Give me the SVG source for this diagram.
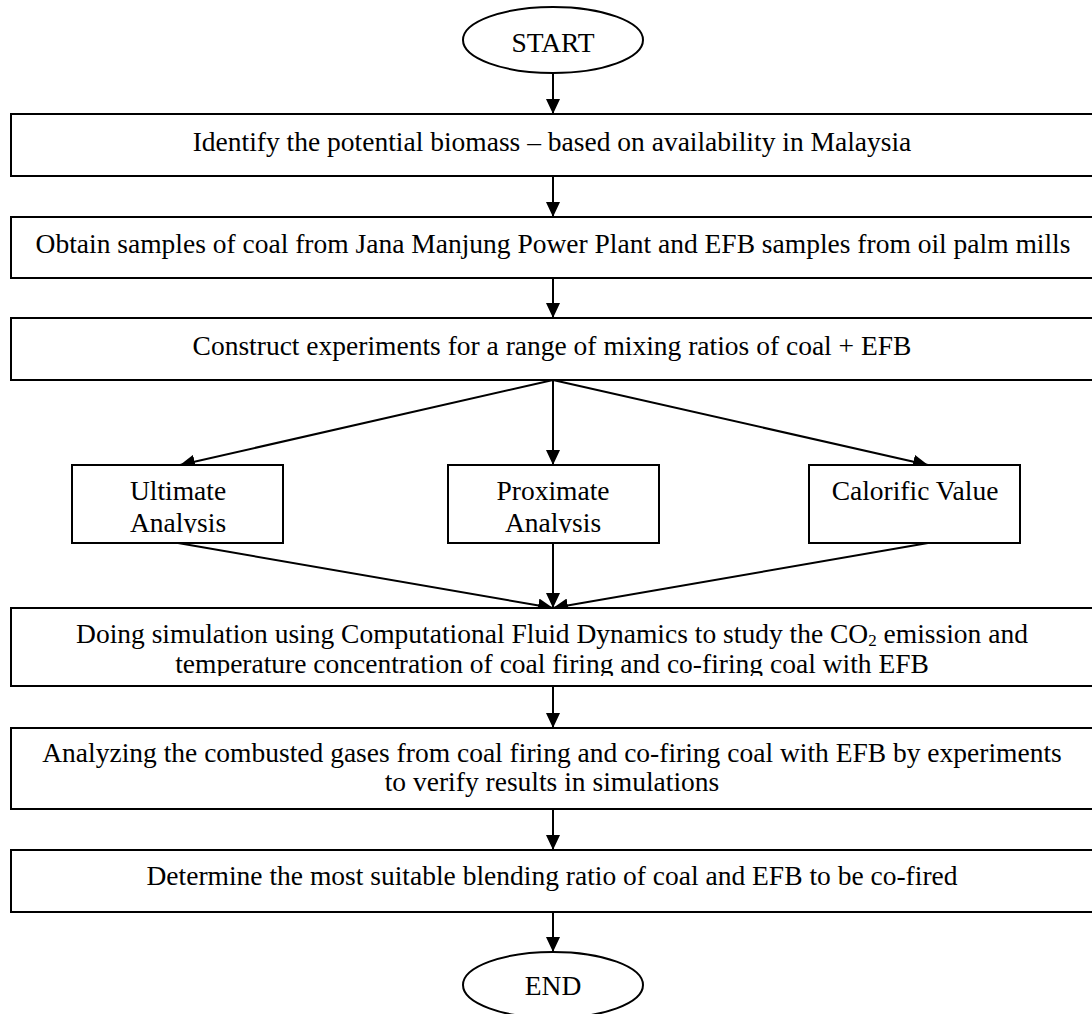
<svg xmlns="http://www.w3.org/2000/svg" width="1092" height="1014" viewBox="0 0 1092 1014">
<style>
.box{fill:#fff;stroke:#000;stroke-width:2}
.t{font-family:"Liberation Serif","Times New Roman",serif;font-size:27.5px;fill:#000;text-anchor:middle}
.c{stroke:#000;stroke-width:2;fill:none}
</style>
<defs>
<marker id="ah" markerUnits="userSpaceOnUse" markerWidth="16" markerHeight="14" refX="15" refY="7" orient="auto">
<path d="M0,0 L15,7 L0,14 Z" fill="#000"/>
</marker>
<clipPath id="clipA"><rect x="0" y="465" width="1092" height="68"/></clipPath>
<clipPath id="clipS"><rect x="0" y="608" width="1092" height="68"/></clipPath>
</defs>
<rect width="1092" height="1014" fill="#fff"/>
<g id="connectors">
<line class="c" x1="553" y1="73" x2="553" y2="114" marker-end="url(#ah)"/>
<line class="c" x1="553" y1="176" x2="553" y2="217" marker-end="url(#ah)"/>
<line class="c" x1="553" y1="278" x2="553" y2="318" marker-end="url(#ah)"/>
<line class="c" x1="553" y1="380" x2="180" y2="465" marker-end="url(#ah)"/>
<line class="c" x1="553" y1="380" x2="553" y2="465" marker-end="url(#ah)"/>
<line class="c" x1="553" y1="380" x2="928" y2="465" marker-end="url(#ah)"/>
<line class="c" x1="178" y1="543" x2="553" y2="608" marker-end="url(#ah)"/>
<line class="c" x1="553" y1="543" x2="553" y2="608" marker-end="url(#ah)"/>
<line class="c" x1="928" y1="543" x2="553" y2="608" marker-end="url(#ah)"/>
<line class="c" x1="553" y1="686" x2="553" y2="728" marker-end="url(#ah)"/>
<line class="c" x1="553" y1="809" x2="553" y2="850" marker-end="url(#ah)"/>
<line class="c" x1="553" y1="912" x2="553" y2="952" marker-end="url(#ah)"/>
</g>
<g id="start">
<ellipse class="box" cx="553" cy="40" rx="90" ry="33"/>
<text class="t" x="553" y="52">START</text>
</g>
<g id="identify">
<rect class="box" x="11" y="114" width="1090" height="62"/>
<text class="t" x="552" y="151">Identify the potential biomass – based on availability in Malaysia</text>
</g>
<g id="obtain">
<rect class="box" x="11" y="217" width="1090" height="61"/>
<text class="t" x="553" y="253">Obtain samples of coal from Jana Manjung Power Plant and EFB samples from oil palm mills</text>
</g>
<g id="construct">
<rect class="box" x="11" y="318" width="1090" height="62"/>
<text class="t" x="552" y="355">Construct experiments for a range of mixing ratios of coal + EFB</text>
</g>
<g id="ultimate">
<rect class="box" x="72" y="465" width="211" height="78"/>
<g clip-path="url(#clipA)">
<text class="t" x="178" y="500">Ultimate</text>
<text class="t" x="178" y="532">Analysis</text>
</g>
</g>
<g id="proximate">
<rect class="box" x="448" y="465" width="211" height="78"/>
<g clip-path="url(#clipA)">
<text class="t" x="553" y="500">Proximate</text>
<text class="t" x="553" y="532">Analysis</text>
</g>
</g>
<g id="calorific">
<rect class="box" x="809" y="465" width="211" height="78"/>
<text class="t" x="915" y="500">Calorific Value</text>
</g>
<g id="simulation">
<rect class="box" x="11" y="608" width="1090" height="78"/>
<g clip-path="url(#clipS)">
<text class="t" x="552" y="643">Doing simulation using Computational Fluid Dynamics to study the CO<tspan font-size="17" dy="3">2</tspan><tspan dy="-3"> emission and</tspan></text>
<text class="t" x="552" y="673">temperature concentration of coal firing and co-firing coal with EFB</text>
</g>
</g>
<g id="analyzing">
<rect class="box" x="11" y="728" width="1090" height="81"/>
<text class="t" x="552" y="762">Analyzing the combusted gases from coal firing and co-firing coal with EFB by experiments</text>
<text class="t" x="552" y="791">to verify results in simulations</text>
</g>
<g id="determine">
<rect class="box" x="11" y="850" width="1090" height="62"/>
<text class="t" x="552" y="885">Determine the most suitable blending ratio of coal and EFB to be co-fired</text>
</g>
<g id="end">
<ellipse class="box" cx="553" cy="985" rx="90" ry="33"/>
<text class="t" x="553" y="995">END</text>
</g>
</svg>
